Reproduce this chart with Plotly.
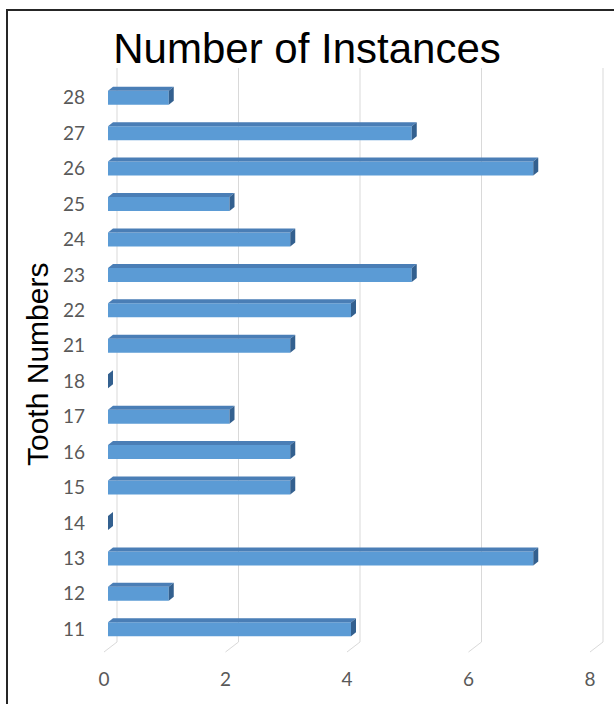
import plotly.graph_objects as go

# ---- data ----
categories = ["11", "12", "13", "14", "15", "16", "17", "18",
              "21", "22", "23", "24", "25", "26", "27", "28"]
values = [4, 1, 7, 0, 3, 3, 2, 0, 3, 4, 5, 3, 2, 7, 5, 1]
x_ticks = [0, 2, 4, 6, 8]
title_text = "Number of Instances"
y_title = "Tooth Numbers"

# ---- geometry ----
W, H = 614, 704
ML, MR, MT, MB = 108, 20, 80, 57
PW, PH = W - ML - MR, H - MT - MB
XR = (0, 8)
YR = (-0.5, len(categories) - 0.5)
px_per_x = PW / (XR[1] - XR[0])
px_per_y = PH / (YR[1] - YR[0])
bar_w = 0.394
dx = 5 / px_per_x      # depth shift (data units)
dy = 4 / px_per_y

pos = list(range(len(categories)))

front = "#5B9BD5"
top_c = "#4A7EB6"
side_c = "#33608F"

fig = go.Figure()
fig.add_trace(go.Bar(orientation="h", x=values, y=pos, width=bar_w,
                     marker=dict(color=front, line=dict(width=0)),
                     hoverinfo="skip", showlegend=False))

tx, ty, sx, sy = [], [], [], []
for i, v in zip(pos, values):
    yt = i + bar_w / 2
    yb = i - bar_w / 2
    if v > 0:
        tx += [0, v, v + dx, dx, 0, None]
        ty += [yt, yt, yt + dy, yt + dy, yt, None]
    sx += [v, v, v + dx, v + dx, v, None]
    sy += [yb, yt, yt + dy, yb + dy, yb, None]

fig.add_trace(go.Scatter(x=tx, y=ty, mode="lines", fill="toself",
                         fillcolor=top_c, line=dict(width=0, color=top_c),
                         hoverinfo="skip", showlegend=False))
fig.add_trace(go.Scatter(x=sx, y=sy, mode="lines", fill="toself",
                         fillcolor=side_c, line=dict(width=0, color=side_c),
                         hoverinfo="skip", showlegend=False))

# back-wall gridlines and floor diagonals
def py(p):  # pixel y -> paper y
    return (MT + PH - p) / PH

def pxp(t, off):  # data x + pixel offset -> paper x
    return (t - XR[0]) / (XR[1] - XR[0]) + off / PW

shapes = []
for t in x_ticks:
    shapes.append(dict(type="line", xref="paper", x0=pxp(t, 9), x1=pxp(t, 9),
                       yref="paper", y0=py(642), y1=py(68),
                       line=dict(color="#D9D9D9", width=1), layer="below"))
    shapes.append(dict(type="line", xref="paper", x0=pxp(t, 9), x1=pxp(t, -4),
                       yref="paper", y0=py(642), y1=py(652),
                       line=dict(color="#D9D9D9", width=1), layer="below"))
# outer border
shapes.append(dict(type="rect", xref="paper", yref="paper",
                   x0=(7 - ML) / PW, x1=(618 - ML) / PW,
                   y0=py(712), y1=py(10),
                   line=dict(color="#262626", width=2), layer="above"))

fig.update_layout(
    width=W, height=H,
    margin=dict(l=ML, r=MR, t=MT, b=MB),
    paper_bgcolor="white", plot_bgcolor="white",
    title=dict(text=title_text, x=0.5, xanchor="center", xref="container",
               y=1 - 48 / H, yanchor="middle", yref="container",
               font=dict(family="Liberation Sans, Arial", size=42, color="#000000")),
    xaxis=dict(range=list(XR), tickvals=x_ticks, showgrid=False, zeroline=False,
               showline=False, ticks="", ticklabelstandoff=19, ticklabelshift=-4,
               tickfont=dict(family="Lato", size=19, color="#595959"), fixedrange=True),
    yaxis=dict(range=list(YR), tickvals=pos, ticktext=categories, showgrid=False,
               zeroline=False, showline=False, ticks="", ticklabelstandoff=22,
               tickfont=dict(family="Lato", size=19, color="#595959"), fixedrange=True),
    shapes=shapes,
    annotations=[dict(text=y_title, textangle=-90, xref="paper", yref="paper",
                      x=(37 - ML) / PW, y=py(365), xanchor="center", yanchor="middle",
                      showarrow=False,
                      font=dict(family="Liberation Sans, Arial", size=30, color="#000000"))],
)

fig.write_html("out.html")
